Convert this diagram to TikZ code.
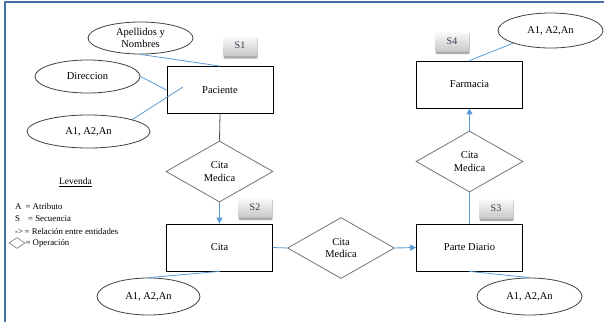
\documentclass[tikz,border=0pt]{standalone}
\usepackage{fontspec}
\setmainfont{Liberation Serif}
\usetikzlibrary{shapes.geometric,arrows.meta,shadows}
\definecolor{linkblue}{RGB}{91,155,213}
\definecolor{frameblue}{RGB}{65,113,166}
\definecolor{seqtext}{RGB}{55,60,75}

\begin{document}
\begin{tikzpicture}[x=1pt, y=-1pt, every node/.style={font=\fontsize{10.5}{12.5}\selectfont},
  entity/.style={draw, line width=0.8pt, minimum width=106pt, minimum height=47pt, inner sep=0pt},
  attrib/.style={ellipse, draw=black!75, line width=0.8pt, inner sep=0pt, align=center},
  oper/.style={diamond, draw=black!55, line width=0.8pt, inner sep=0pt, align=center,
    minimum width=107pt, minimum height=61pt},
  seqbox/.style={rounded corners=1pt, top color=white, bottom color=black!22, text=seqtext,
    minimum width=34pt, minimum height=21pt, inner sep=0pt, font=\fontsize{10}{11}\selectfont,
    drop shadow={shadow xshift=0.5pt, shadow yshift=-2.5pt, fill=black!65}},
  link/.style={linkblue, line width=0.8pt},
  flow/.style={linkblue, line width=0.9pt, -{Triangle[length=6pt, width=6pt]}},
  legtext/.style={anchor=west, inner sep=0pt, font=\fontsize{8.8}{11}\selectfont}]
  \useasboundingbox (0,0) rectangle (604,322);
  % marco
  \draw[frameblue, line width=1.5pt] (5,322) -- (5,2) -- (604,2);
  % entidades
  \node[entity] (paciente) at (220,90) {Paciente};
  \node[entity] (cita) at (219.5,247.5) {Cita};
  \node[entity] (parte) at (469.5,247.5) {Parte Diario};
  \node[entity] (farmacia) at (469.5,84.5) {Farmacia};
  % operaciones
  \node[oper] (op1) at (219.5,171.5) {Cita\\Medica};
  \node[oper] (op2) at (341,248) {Cita\\Medica};
  \node[oper] (op3) at (469.5,161.5) {Cita\\Medica};
  % atributos
  \node[attrib, minimum width=105pt, minimum height=32pt] (apellidos) at (140.5,38) {Apellidos y\\Nombres};
  \node[attrib, minimum width=105pt, minimum height=33pt] (direccion) at (87.5,76.5) {Direccion};
  \node[attrib, minimum width=123pt, minimum height=33pt] (atrPac) at (88.5,131.5) {A1, A2,An};
  \node[attrib, minimum width=103pt, minimum height=37pt] (atrCita) at (148.5,296.5) {A1, A2,An};
  \node[attrib, minimum width=105pt, minimum height=37pt] (atrParte) at (529.5,296.5) {A1, A2,An};
  \node[attrib, minimum width=105pt, minimum height=35pt] (atrFarm) at (550.5,30.5) {A1, A2,An};
  % secuencias
  \node[seqbox] (s1) at (240,45.5) {S1};
  \node[seqbox] (s2) at (255,207) {S2};
  \node[seqbox] (s3) at (496,208) {S3};
  \node[seqbox] (s4) at (452,41) {S4};
  % conexiones
  \coordinate (pacIn) at (183,87);
  \draw[link] (apellidos.south) -- (paciente.north);
  \draw[link] (direccion.east) -- (paciente.west);
  \draw[link] (atrPac.north east) -- (pacIn);
  \draw[black!70, line width=0.8pt] (paciente.south) -- (op1.north);
  \draw[flow] (op1.south) -- (cita.north);
  \draw[link] (cita.south) -- (atrCita.north);
  \draw[link] (cita.east) -- (op2.west);
  \draw[flow] (op2.east) -- (parte.west);
  \draw[link] (parte.south) -- (atrParte.north);
  \draw[link] (parte.north) -- (op3.south);
  \draw[flow] (op3.north) -- (farmacia.south);
  \draw[link] (farmacia.north) -- (atrFarm.south west);
  % leyenda
  \node[inner sep=0pt, font=\fontsize{9.5}{11}\selectfont] (leyenda) at (75.5,182) {\underline{Levenda}};
  \node[legtext] (leyA) at (15,206) {A\hspace{4pt}= Atributo};
  \node[legtext] (leyS) at (15,218.5) {S\hspace{8pt}= Secuencia};
  \node[legtext] (leyR) at (15,231) {->\hspace{1.5pt}= Relación entre entidades};
  \node[diamond, draw=black!55, line width=0.6pt, minimum width=16pt, minimum height=11pt, inner sep=0pt] (leyD) at (17,243) {};
  \node[legtext] (leyO) at (leyD.east) {= Operación};
\end{tikzpicture}
\end{document}
